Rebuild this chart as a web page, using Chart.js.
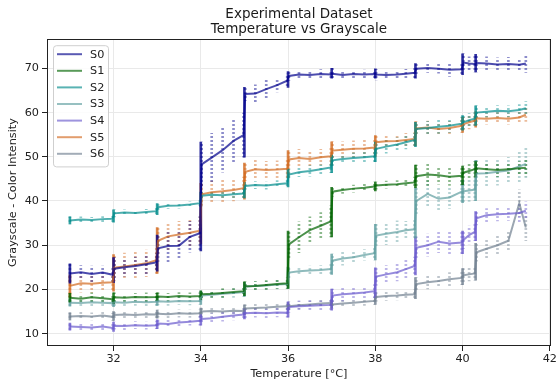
<!DOCTYPE html>
<html>
<head>
<meta charset="utf-8">
<title>Experimental Dataset</title>
<script src="https://cdn.jsdelivr.net/npm/chart.js@4.4.1/dist/chart.umd.min.js"></script>
<style>
  html, body { margin: 0; padding: 0; background: #fff; }
</style>
</head>
<body>
<canvas id="chart" width="558" height="381"></canvas>
<script>
// temperature grid (deg C), pairs 0.04 apart mark the step changes
var temps = [
  31.0, 31.25, 31.5, 31.75, 31.98,
  32.02, 32.25, 32.5, 32.75, 32.98,
  33.02, 33.25, 33.5, 33.75, 33.98,
  34.02, 34.25, 34.5, 34.75, 34.98,
  35.02, 35.25, 35.5, 35.75, 35.98,
  36.02, 36.25, 36.5, 36.75, 36.98,
  37.02, 37.25, 37.5, 37.75, 37.98,
  38.02, 38.25, 38.5, 38.7, 38.9,
  38.94, 39.2, 39.45, 39.7, 39.98,
  40.02, 40.15, 40.28, 40.32, 40.55, 40.8, 41.05, 41.3, 41.45
]
var names = ["S0", "S1", "S2", "S3", "S4", "S5", "S6"]
var colors = ["0,0,139", "0,100,0", "0,139,139", "95,158,160", "106,90,205", "210,105,30", "112,128,144"]
var xTicks = [32, 34, 36, 38, 40, 42]
var yTicks = [10, 20, 30, 40, 50, 60, 70]

// mean grayscale per sample
var s0 = [
  23.6, 23.9, 23.5, 23.8, 23.3,
  24.7, 25.0, 25.3, 25.7, 26.1,
  29.3, 29.8, 29.9, 31.9, 32.7,
  48.3, 49.8, 51.5, 53.6, 54.9,
  64.2, 64.3, 65.3, 66.2, 67.2,
  68.3, 68.6, 68.5, 68.7, 68.6,
  68.8, 68.5, 68.7, 68.6, 68.7,
  68.6, 68.5, 68.6, 68.8, 69.0,
  69.9, 70.1, 69.9, 69.7, 69.8,
  71.3, 71.1, 71.0, 71.2, 71.1, 70.9, 71.0, 70.8, 71.1
]
var s1 = [
  18.1, 17.9, 18.2, 18.0, 17.8,
  18.2, 18.1, 18.3, 18.2, 18.3,
  18.4, 18.3, 18.5, 18.4, 18.5,
  18.9, 19.0, 19.2, 19.4, 19.6,
  20.7, 20.8, 21.0, 21.2, 21.4,
  30.2, 31.8, 33.4, 34.4, 35.4,
  42.1, 42.5, 42.8, 43.0, 43.3,
  43.5, 43.7, 43.8, 44.0, 44.2,
  45.6, 46.0, 45.8, 45.5, 45.7,
  46.4, 46.8, 47.2, 47.4, 47.2, 47.0, 47.2, 47.4, 47.5
]
var s2 = [
  35.6, 35.8, 35.7, 35.9, 36.0,
  37.2, 37.4, 37.3, 37.5, 37.7,
  38.6, 38.9, 39.0, 39.2, 39.5,
  41.2, 41.4, 41.3, 41.5, 41.7,
  43.4, 43.6, 43.5, 43.8, 44.0,
  46.0, 46.5, 46.8, 47.2, 47.6,
  49.2, 49.5, 49.7, 49.9, 50.1,
  51.8, 52.3, 52.8, 53.3, 53.8,
  56.3, 56.5, 56.8, 57.0, 57.5,
  57.8, 58.3, 58.6, 60.0, 60.2, 60.4, 60.3, 60.6, 61.0
]
var s3 = [
  17.0, 16.9, 17.1, 17.0, 16.9,
  17.1, 17.0, 17.2, 17.1, 17.2,
  17.3, 17.2, 17.4, 17.3, 17.4,
  18.6, 18.8, 19.0, 19.2, 19.4,
  20.6, 20.8, 20.9, 21.1, 21.2,
  23.8, 24.1, 24.3, 24.4, 24.6,
  26.5, 27.0, 27.3, 27.8, 28.2,
  32.2, 32.6, 33.0, 33.4, 33.6,
  40.0, 41.6, 40.5, 40.8, 42.1,
  42.2, 42.4, 42.6, 46.2, 46.3, 46.6, 46.9, 47.8, 48.4
]
var s4 = [
  11.6, 11.5, 11.4, 11.6, 11.3,
  11.8, 11.7, 11.9, 11.8, 11.9,
  12.3, 12.2, 12.5, 12.7, 12.9,
  13.3, 13.5, 13.8, 14.1, 14.3,
  14.6, 14.7, 14.6, 14.8, 14.7,
  16.0, 16.2, 16.3, 16.4, 16.5,
  18.6, 18.9, 19.1, 19.3, 19.6,
  22.9, 23.4, 23.9, 24.6, 25.3,
  29.4, 30.0, 30.8, 30.4, 30.6,
  31.2, 32.3, 33.0, 36.1, 36.8, 37.0, 37.1, 37.3, 37.8
]
var s5 = [
  20.8, 21.4, 21.3, 21.5, 21.6,
  24.9, 25.2, 25.5, 25.9, 26.6,
  31.0, 32.0, 32.4, 32.8, 33.3,
  41.5, 42.0, 42.2, 42.5, 42.9,
  46.6, 47.2, 47.0, 47.1, 47.3,
  49.4, 49.7, 49.5, 49.9, 50.1,
  51.4, 51.6, 51.8, 51.9, 52.1,
  53.3, 53.5, 53.6, 53.8, 54.0,
  56.4, 56.6, 56.3, 56.5, 57.0,
  57.4, 57.8, 58.2, 58.7, 58.6, 58.8, 58.6, 58.9, 59.5
]
var s6 = [
  13.9, 14.0, 13.9, 14.1, 13.8,
  14.2, 14.3, 14.2, 14.4, 14.3,
  14.5, 14.4, 14.6, 14.5, 14.6,
  15.0, 15.1, 15.0, 15.2, 15.1,
  15.7, 15.8, 15.9, 16.1, 16.2,
  16.2, 16.4, 16.6, 16.8, 16.9,
  16.6, 16.8, 17.0, 17.2, 17.4,
  18.3, 18.5, 18.6, 18.8, 18.9,
  21.2, 21.6, 21.9, 22.3, 22.6,
  23.2, 23.4, 23.6, 28.4, 29.2, 30.0, 31.0, 39.5, 34.0
]

// half spread of the repeated readings around each mean
var band0 = [
  2.2, 1.5, 1.8, 1.5, 1.8,
  2.5, 2.0, 2.0, 2.2, 2.0,
  3.0, 3.5, 3.0, 3.5, 4.0,
  5.0, 5.5, 5.0, 5.0, 5.0,
  1.5, 2.0, 2.0, 1.5, 1.5,
  1.0, 0.8, 0.8, 1.0, 0.8,
  1.2, 0.8, 0.8, 1.0, 0.8,
  1.2, 0.8, 0.8, 1.0, 1.2,
  1.2, 1.0, 1.0, 1.5, 1.2,
  2.0, 1.5, 1.8, 2.0, 1.5, 1.5, 1.5, 1.5, 2.0
]
var band1 = [
  1.0, 0.8, 1.0, 0.8, 1.0,
  1.0, 0.8, 0.8, 1.0, 0.8,
  0.8, 0.8, 0.8, 0.8, 0.8,
  0.8, 0.8, 1.0, 0.8, 1.0,
  1.0, 1.0, 1.0, 1.0, 1.2,
  3.0, 3.5, 3.0, 3.0, 3.5,
  1.0, 0.8, 0.8, 0.8, 1.0,
  0.8, 0.8, 0.8, 1.0, 1.2,
  2.5, 2.5, 2.0, 2.0, 2.0,
  1.5, 1.5, 1.8, 1.5, 1.5, 1.5, 1.5, 1.5, 1.8
]
var band2 = [
  0.8, 0.6, 0.6, 0.6, 0.8,
  0.8, 0.6, 0.6, 0.6, 0.8,
  0.8, 0.6, 0.6, 0.6, 0.8,
  0.8, 0.8, 0.8, 0.8, 1.0,
  0.8, 0.8, 0.8, 0.8, 0.8,
  1.2, 1.0, 1.2, 1.0, 1.2,
  1.2, 1.0, 1.2, 1.2, 1.2,
  1.5, 1.5, 1.5, 1.5, 1.5,
  1.5, 1.5, 1.5, 1.5, 1.5,
  1.5, 1.5, 1.5, 1.5, 1.2, 1.2, 1.2, 1.2, 1.5
]
var band3 = [
  0.8, 0.8, 0.8, 0.8, 0.8,
  0.8, 0.8, 0.8, 0.8, 0.8,
  0.8, 0.8, 0.8, 0.8, 0.8,
  1.0, 1.0, 1.0, 1.0, 1.0,
  1.0, 1.0, 1.0, 1.0, 1.0,
  1.2, 1.0, 1.0, 1.0, 1.2,
  1.5, 1.5, 1.2, 1.2, 1.5,
  2.5, 2.5, 2.5, 2.0, 2.0,
  3.0, 3.0, 2.5, 2.5, 2.5,
  2.5, 2.5, 2.5, 3.0, 3.0, 3.0, 3.0, 3.5, 3.5
]
var band4 = [
  0.8, 0.8, 0.8, 0.8, 0.8,
  0.8, 0.8, 0.8, 0.8, 0.8,
  0.8, 0.8, 1.0, 0.8, 1.0,
  1.0, 1.0, 1.0, 1.0, 1.0,
  1.0, 1.0, 1.0, 1.0, 1.0,
  1.2, 1.2, 1.2, 1.0, 1.2,
  1.5, 1.5, 1.5, 1.2, 1.5,
  2.0, 2.0, 2.0, 2.0, 2.0,
  2.5, 2.5, 2.5, 2.5, 2.5,
  2.0, 2.0, 2.0, 1.5, 1.5, 1.5, 1.5, 2.0, 2.0
]
var band5 = [
  2.5, 2.0, 2.0, 2.0, 2.0,
  3.0, 3.0, 3.0, 3.0, 3.0,
  3.0, 3.0, 3.0, 3.0, 3.0,
  2.5, 2.5, 2.5, 2.5, 2.5,
  2.0, 2.0, 2.0, 2.0, 2.0,
  2.0, 2.0, 1.8, 1.8, 2.0,
  2.0, 1.8, 1.8, 1.8, 2.0,
  1.5, 1.5, 1.5, 1.5, 1.5,
  1.5, 1.5, 1.5, 1.5, 1.5,
  1.5, 1.5, 1.5, 1.5, 1.2, 1.2, 1.2, 1.2, 1.5
]
var band6 = [
  0.8, 0.8, 0.8, 0.8, 0.8,
  0.8, 0.8, 0.8, 0.8, 0.8,
  0.8, 0.8, 0.8, 0.8, 0.8,
  0.8, 0.8, 0.8, 0.8, 0.8,
  0.8, 0.8, 0.8, 0.8, 0.8,
  0.8, 0.8, 0.8, 0.8, 0.8,
  0.8, 0.8, 0.8, 0.8, 0.8,
  1.0, 1.0, 1.0, 1.0, 1.0,
  1.5, 1.5, 1.5, 1.5, 1.5,
  1.5, 1.5, 1.5, 2.0, 2.0, 2.0, 2.0, 3.0, 3.0
]

var values = [s0, s1, s2, s3, s4, s5, s6]
var bands = [band0, band1, band2, band3, band4, band5, band6]
var font = "DejaVu Sans"

// dotted fill so the spread columns read as stacked markers
function dotFill(rgb, alpha) {
  var c = document.createElement('canvas')
  c.width = 2
  c.height = 4
  var g = c.getContext('2d')
  g.fillStyle = 'rgba(' + rgb + ',' + alpha + ')'
  g.fillRect(0, 0, 2, 2)
  return g.createPattern(c, 'repeat')
}

var datasets = []
for (var k = 0; k < names.length; k++) {
  var line = [], spread = [], dense = []
  var v = values[k], b = bands[k]
  for (var i = 0; i < temps.length; i++) {
    line.push({x: temps[i], y: v[i]})
    spread.push({x: temps[i], y: [v[i] - b[i], v[i] + b[i]]})
    if (i == 0) {
      dense.push({x: temps[i], y: [v[i] - b[i], v[i] + b[i]]})
    }
    // the step changes show up as dense columns of readings
    if (i + 1 < temps.length && temps[i + 1] - temps[i] < 0.06) {
      dense.push({
        x: (temps[i] + temps[i + 1]) / 2,
        y: [Math.min(v[i], v[i + 1]) - b[i], Math.max(v[i], v[i + 1]) + b[i + 1]]
      })
    }
  }
  datasets.push({
    type: 'bar', label: names[k] + ' readings', data: spread,
    backgroundColor: dotFill(colors[k], 0.45),
    borderWidth: 0, barThickness: 2, grouped: false, order: 3
  })
  datasets.push({
    type: 'bar', label: names[k] + ' steps', data: dense,
    backgroundColor: 'rgba(' + colors[k] + ',0.8)',
    borderWidth: 0, barThickness: 2, grouped: false, order: 2
  })
  datasets.push({
    type: 'line', label: names[k], data: line,
    borderColor: 'rgba(' + colors[k] + ',0.7)',
    borderWidth: 2, pointRadius: 0, tension: 0, fill: false, order: 1
  })
}

// axes frame on all four sides plus the legend box inside the plot
var frameAndLegend = {
  id: 'frameAndLegend',
  afterDraw: function(chart) {
    var ctx = chart.ctx, a = chart.chartArea
    ctx.save()
    ctx.strokeStyle = '#222'
    ctx.lineWidth = 1
    ctx.strokeRect(Math.round(a.left) + 0.5, Math.round(a.top) + 0.5,
      Math.round(a.right - a.left) - 1, Math.round(a.bottom - a.top) - 1)

    var x = a.left + 6, y = a.top + 6, w = 55, rowH = 16.6
    var h = rowH * names.length + 5
    ctx.fillStyle = 'rgba(255,255,255,0.85)'
    ctx.strokeStyle = '#cfcfcf'
    ctx.beginPath()
    ctx.roundRect(x + 0.5, y + 0.5, w, h, 3)
    ctx.fill()
    ctx.stroke()
    ctx.font = '11.25px "' + font + '"'
    ctx.textBaseline = 'middle'
    for (var k = 0; k < names.length; k++) {
      var ry = y + 9 + k * rowH
      ctx.strokeStyle = 'rgba(' + colors[k] + ',0.65)'
      ctx.lineWidth = 2
      ctx.beginPath()
      ctx.moveTo(x + 4, ry)
      ctx.lineTo(x + 29, ry)
      ctx.stroke()
      ctx.fillStyle = '#222'
      ctx.fillText(names[k], x + 37, ry + 0.5)
    }
    ctx.restore()
  }
}

var chart = new Chart(document.getElementById('chart'), {
  type: 'line',
  data: { datasets: datasets },
  plugins: [frameAndLegend],
  options: {
    responsive: false,
    animation: false,
    layout: { padding: { right: 6 } },
    plugins: {
      legend: { display: false },
      tooltip: { enabled: false },
      title: {
        display: true,
        fullSize: false,
        text: ['Experimental Dataset', 'Temperature vs Grayscale'],
        color: '#1a1a1a',
        font: { family: font, size: 13.5, weight: 'normal', lineHeight: 1.1 },
        padding: { top: 7, bottom: 2.5 }
      }
    },
    scales: {
      x: {
        type: 'linear',
        min: 30.475,
        max: 42.025,
        offset: false,
        afterFit: function(scale) { scale.height = 35 },
        afterBuildTicks: function(scale) {
          scale.ticks = xTicks.map(function(t) { return {value: t} })
        },
        ticks: { color: '#222', font: { family: font, size: 11.25 }, padding: 1, maxRotation: 0 },
        grid: { offset: false, color: '#e9e9e9', tickColor: '#222', tickLength: 5 },
        border: { display: false },
        title: {
          display: true, text: 'Temperature [°C]', color: '#222',
          font: { family: font, size: 11.25 }, padding: { top: 2, bottom: 0 }
        }
      },
      y: {
        min: 7.2,
        max: 76.6,
        afterFit: function(scale) { scale.width = 47 },
        afterBuildTicks: function(scale) {
          scale.ticks = yTicks.map(function(t) { return {value: t} })
        },
        ticks: { color: '#222', font: { family: font, size: 11.25 }, padding: 3 },
        grid: { offset: false, color: '#e9e9e9', tickColor: '#222', tickLength: 5 },
        border: { display: false },
        title: {
          display: true, text: 'Grayscale - Color Intensity', color: '#222',
          font: { family: font, size: 11.25 }, padding: { top: 6, bottom: 2 }
        }
      }
    }
  }
})
</script>
</body>
</html>
